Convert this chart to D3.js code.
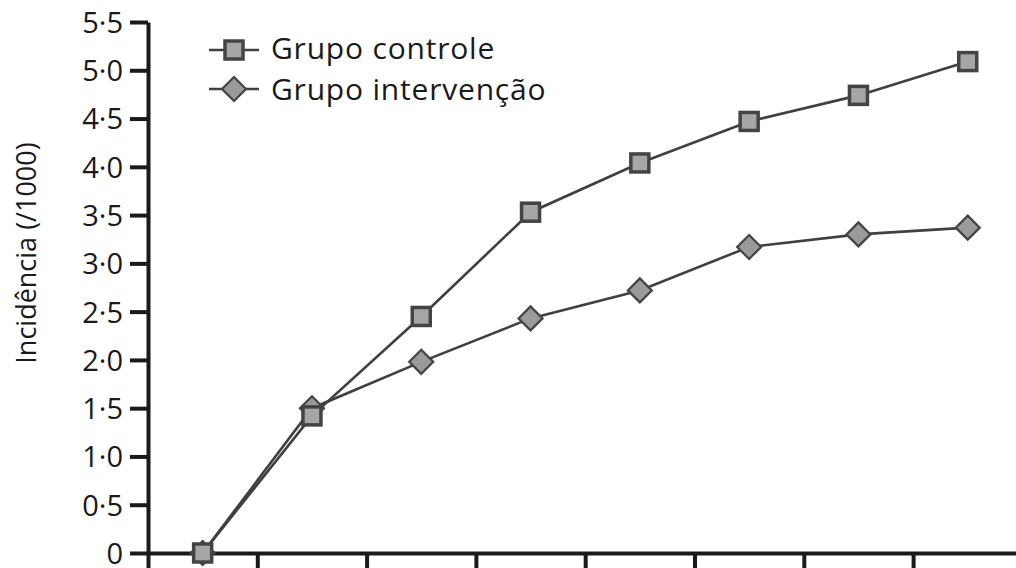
<!DOCTYPE html>
<html>
<head>
<meta charset="utf-8">
<script src="https://cdn.jsdelivr.net/npm/d3@7"></script>
<style>
  body { margin: 0; background: #fff; }
  text { font-family: "Open Sans", "Noto Sans", sans-serif; fill: #1a1a1a; }
</style>
</head>
<body>
<div id="chart"></div>
<script>
// data
var periods = [1, 2, 3, 4, 5, 6, 7, 8];
var controle = [0, 1.42, 2.45, 3.53, 4.04, 4.47, 4.74, 5.09];
var intervencao = [0, 1.50, 1.98, 2.43, 2.72, 3.17, 3.30, 3.37];
var yTicks = [0, 0.5, 1, 1.5, 2, 2.5, 3, 3.5, 4, 4.5, 5, 5.5];
var seriesNames = ["Grupo controle", "Grupo intervenção"];

var svgWidth = 1016;
var svgHeight = 568;

var plotLeft = 148, plotTop = 22, plotBottom = 553;
var step = 109.3;

var svg = d3.select("#chart")
  .append("svg")
  .attr("width", svgWidth)
  .attr("height", svgHeight);

var xScale = d3.scaleLinear()
  .domain([0, periods.length])
  .range([plotLeft, plotLeft + periods.length * step]);

var yScale = d3.scaleLinear()
  .domain([0, 5.5])
  .range([plotBottom, plotTop]);

// axes
var xAxis = d3.axisBottom(xScale)
  .tickValues(d3.range(0, periods.length + 1))
  .tickSizeInner(22)
  .tickSizeOuter(0)
  .tickFormat("");

var yAxis = d3.axisLeft(yScale)
  .tickValues(yTicks)
  .tickSizeInner(18)
  .tickSizeOuter(0)
  .tickPadding(7)
  .tickFormat(d => d === 0 ? "0" : d3.format(".1f")(d).replace(".", "·"));

var gx = svg.append("g")
  .attr("transform", `translate(0, ${plotBottom})`)
  .call(xAxis);

var gy = svg.append("g")
  .attr("transform", `translate(${plotLeft}, 0)`)
  .call(yAxis);

[gx, gy].forEach(function(g) {
  g.selectAll("path, line")
    .attr("stroke", "#1a1a1a")
    .attr("stroke-width", 4);
});
gy.selectAll("text")
  .attr("font-size", "29px")
  .attr("fill", "#222")
  .attr("dy", "0.36em");

// y label
svg.append("text")
  .attr("transform", `translate(36, 253) rotate(-90)`)
  .attr("text-anchor", "middle")
  .attr("font-size", "27px")
  .text("Incidência (/1000)");

// lines
var line = d3.line()
  .x((d, i) => xScale(i + 0.5))
  .y(d => yScale(d));

var lineColor = "#404040";

svg.append("path")
  .datum(intervencao)
  .attr("fill", "none")
  .attr("stroke", lineColor)
  .attr("stroke-width", 2.6)
  .attr("d", line);

svg.append("path")
  .datum(controle)
  .attr("fill", "none")
  .attr("stroke", lineColor)
  .attr("stroke-width", 2.6)
  .attr("d", line);

// markers
var diamond = "M0,-12L12,0L0,12L-12,0Z";

svg.selectAll(".dia")
  .data(intervencao)
  .enter()
  .append("path")
  .attr("class", "dia")
  .attr("d", diamond)
  .attr("transform", (d, i) => `translate(${xScale(i + 0.5)}, ${yScale(d)})`)
  .attr("fill", "#9a9a9a")
  .attr("stroke", "#444")
  .attr("stroke-width", 2.2);

svg.selectAll(".sq")
  .data(controle)
  .enter()
  .append("rect")
  .attr("class", "sq")
  .attr("x", (d, i) => xScale(i + 0.5) - 9)
  .attr("y", d => yScale(d) - 9)
  .attr("width", 18)
  .attr("height", 18)
  .attr("fill", "#a6a6a6")
  .attr("stroke", "#444")
  .attr("stroke-width", 3.5);

// legend
var legend = svg.append("g");
var legY = [50, 89];
var legBase = [58.5, 99.5];

legend.selectAll("line")
  .data(legY)
  .enter()
  .append("line")
  .attr("x1", 209)
  .attr("x2", 259)
  .attr("y1", d => d)
  .attr("y2", d => d)
  .attr("stroke", lineColor)
  .attr("stroke-width", 2.6);

legend.append("rect")
  .attr("x", 234 - 9)
  .attr("y", legY[0] - 9)
  .attr("width", 18)
  .attr("height", 18)
  .attr("fill", "#a6a6a6")
  .attr("stroke", "#444")
  .attr("stroke-width", 3.5);

legend.append("path")
  .attr("d", diamond)
  .attr("transform", `translate(234, ${legY[1]})`)
  .attr("fill", "#9a9a9a")
  .attr("stroke", "#444")
  .attr("stroke-width", 2.2);

legend.selectAll(".lt")
  .data(seriesNames)
  .enter()
  .append("text")
  .attr("class", "lt")
  .attr("x", 271)
  .attr("y", (d, i) => legBase[i])
  .attr("font-size", "30px")
  .attr("letter-spacing", "0.8px")
  .text(d => d);
</script>
</body>
</html>
